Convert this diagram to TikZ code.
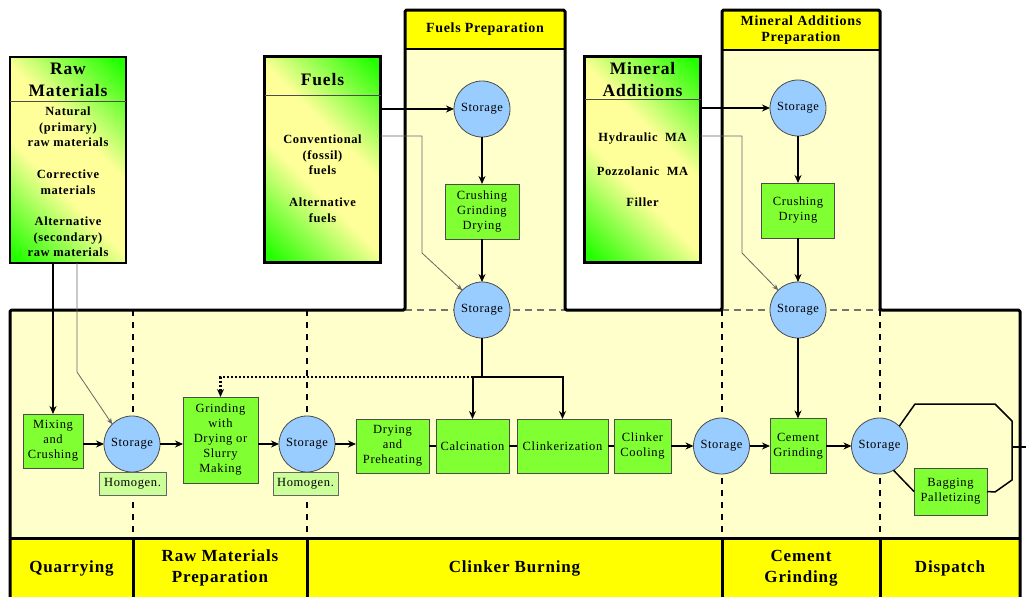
\documentclass[tikz,border=0pt]{standalone}
\usepackage{fontspec}
\setmainfont[LetterSpace=5]{Liberation Serif}
\usetikzlibrary{arrows.meta}

\definecolor{paleyel}{RGB}{255,255,204}
\definecolor{bandyel}{RGB}{255,255,0}
\definecolor{procgrn}{RGB}{128,255,51}
\definecolor{homgrn}{RGB}{204,255,153}
\definecolor{storblue}{RGB}{153,204,255}
\definecolor{sidegrn}{RGB}{34,255,0}
\definecolor{sideyel}{RGB}{255,255,153}

\pgfdeclarehorizontalshading{sidegrad}{100bp}{color(0bp)=(sidegrn); color(17bp)=(sidegrn); color(42bp)=(sideyel); color(58bp)=(sideyel); color(83bp)=(sidegrn); color(100bp)=(sidegrn)}

\begin{document}
\begin{tikzpicture}[x=1pt, y=-1pt,
  every node/.style={outer sep=0pt},
  proc/.style={draw=black!70, line width=0.8pt, fill=procgrn, align=center, inner sep=1pt, font=\fontsize{12.5}{15}\selectfont},
  stor/.style={circle, draw=black!70, line width=0.8pt, fill=storblue, minimum size=56pt, inner sep=0pt, font=\fontsize{12.5}{14}\selectfont},
  homog/.style={draw=black!60, line width=0.8pt, fill=homgrn, minimum height=23pt, inner sep=1pt, font=\fontsize{12.5}{14}\selectfont},
  sidebox/.style={draw=black, line width=2.5pt, shading=sidegrad, shading angle=45, minimum width=116pt, minimum height=206pt},
  sidehead/.style={align=center, font=\bfseries\fontsize{17.5}{22}\selectfont},
  sideitem/.style={align=center, font=\bfseries\fontsize{12.5}{15.5}\selectfont},
  prephead/.style={align=center, font=\bfseries\fontsize{14}{16}\selectfont},
  bandlabel/.style={align=center, font=\bfseries\fontsize{17}{21}\selectfont},
  frame/.style={line width=3pt, line join=round},
  seamdash/.style={draw=black!55, line width=1.5pt, dash pattern=on 7pt off 5pt},
  stagedash/.style={line width=1.8pt, dash pattern=on 6pt off 6pt},
  flow/.style={line width=2pt, -{Stealth[length=8pt, width=7pt]}},
  trunk/.style={line width=2pt},
  dotflow/.style={line width=2.4pt, dash pattern=on 2pt off 2pt, -{Stealth[length=8pt, width=7pt]}},
  thinflow/.style={line width=0.8pt, draw=black!60, -{Stealth[length=6pt, width=5pt]}},
  loopline/.style={line width=1.5pt, line join=round}]

\useasboundingbox (0,0) rectangle (1026,597);

\fill[paleyel] (10,310) -- (405,310) -- (405,10) -- (565,10) -- (565,310) -- (722,310) -- (722,10) -- (880,10) -- (880,310) -- (1020,310) -- (1020,600) -- (10,600) -- cycle;

\fill[bandyel] (405,10) rectangle (565,49);
\fill[bandyel] (722,10) rectangle (880,50);
\fill[bandyel] (10,538) rectangle (1020,600);

\draw[seamdash] (405,310) -- (565,310);
\draw[seamdash] (722,310) -- (880,310);
\foreach \x in {133,307,722,880}
  \draw[stagedash] (\x,310) -- (\x,538);

\draw[line width=1.5pt] (405,49) -- (565,49);
\draw[line width=1.5pt] (722,50) -- (880,50);
\draw[frame] (10,538) -- (1020,538);
\foreach \x in {133,307,722,880}
  \draw[frame] (\x,538) -- (\x,600);

\draw[frame, rounded corners=1.5pt] (10,310) -- (405,310) -- (405,10) -- (565,10) -- (565,310) -- (722,310) -- (722,10) -- (880,10) -- (880,310) -- (1020,310) -- (1020,600) -- (10,600) -- cycle;

\node[prephead] (fprephead) at (485,29) {Fuels Preparation};
\node[prephead] (mprephead) at (801,30) {Mineral Additions\\Preparation};

\node[bandlabel] (quarry) at (71.5,568) {Quarrying};
\node[bandlabel] (rawprep) at (220,568) {Raw Materials\\Preparation};
\node[bandlabel] (clinker) at (514.5,568) {Clinker Burning};
\node[bandlabel] (cement) at (801,568) {Cement\\Grinding};
\node[bandlabel] (dispatch) at (950,568) {Dispatch};

\node[sidebox] (rawmat) at (68,160) {};
\node[sidebox] (fuels) at (322.5,159.5) {};
\node[sidebox] (mineral) at (642.5,159.5) {};
\draw[line width=0.8pt, black!70] (rawmat.north west) ++(0,44) -- ++(116,0);
\draw[line width=0.8pt, black!70] (fuels.north west) ++(0,39) -- ++(116,0);
\draw[line width=0.8pt, black!70] (mineral.north west) ++(0,43) -- ++(116,0);

\node[sidehead] (rawhead) at (68,80) {Raw\\Materials};
\node[sideitem] (rawnat) at (68,127) {Natural\\(primary)\\raw materials};
\node[sideitem] (rawcor) at (68,182) {Corrective\\materials};
\node[sideitem] (rawalt) at (68,237) {Alternative\\(secondary)\\raw materials};

\node[sidehead] (fuelhead) at (322.5,80) {Fuels};
\node[sideitem] (fuelconv) at (322.5,155) {Conventional\\(fossil)\\fuels};
\node[sideitem] (fuelalt) at (322.5,210) {Alternative\\fuels};

\node[sidehead] (minhead) at (642.5,80) {Mineral\\Additions};
\node[sideitem] (minhyd) at (642.5,139) {Hydraulic~~MA};
\node[sideitem] (minpoz) at (642.5,171) {Pozzolanic~~MA};
\node[sideitem] (minfil) at (642.5,202) {Filler};

\node[stor] (fstor1) at (482,109) {Storage};
\node[proc, minimum width=74pt, minimum height=55pt] (fcrush) at (482,211.5) {Crushing\\Grinding\\Drying};
\node[stor] (fstor2) at (482,310) {Storage};

\node[stor] (mstor1) at (798,108) {Storage};
\node[proc, minimum width=73pt, minimum height=55pt] (mcrush) at (798,210.5) {Crushing\\Drying};
\node[stor] (mstor2) at (798,310) {Storage};

\node[proc, minimum width=60pt, minimum height=54pt] (mix) at (53,441) {Mixing\\and\\Crushing};
\node[stor] (stor1) at (132,444) {Storage};
\node[homog, minimum width=67pt] (homog1) at (132.5,483.5) {Homogen.};
\node[proc, minimum width=75pt, minimum height=86pt] (grind) at (220.5,440) {Grinding\\with\\Drying or\\Slurry\\Making};
\node[stor] (stor2) at (307,444) {Storage};
\node[homog, minimum width=65pt] (homog2) at (305.5,483.5) {Homogen.};
\node[proc, minimum width=73pt, minimum height=54pt] (dryp) at (392.5,446) {Drying\\and\\Preheating};
\node[proc, minimum width=73pt, minimum height=54pt] (calc) at (472.5,446) {Calcination};
\node[proc, minimum width=91pt, minimum height=54pt] (clink) at (562.5,446) {Clinkerization};
\node[proc, minimum width=57pt, minimum height=54pt] (cool) at (642.5,446) {Clinker\\Cooling};
\node[stor] (stor3) at (721.5,446) {Storage};
\node[proc, minimum width=56pt, minimum height=55pt] (cemg) at (798,446) {Cement\\Grinding};
\node[stor] (stor4) at (879.5,446) {Storage};
\node[proc, minimum width=73pt, minimum height=47pt] (bag) at (950.5,491.5) {Bagging\\Palletizing};

\draw[flow] (rawmat.south -| mix.north) -- (mix.north);
\coordinate (rawbend) at (77,372);
\draw[thinflow] (rawmat.south -| rawbend) -- (rawbend) -- (stor1.135);

\draw[flow] (mix.east |- stor1) -- (stor1);
\draw[flow] (stor1) -- (grind.west |- stor1);
\draw[flow] (grind.east |- stor2) -- (stor2);
\draw[flow] (stor2) -- (dryp.west |- stor2);
\draw[trunk] (dryp) -- (calc);
\draw[trunk] (calc) -- (clink);
\draw[trunk] (clink) -- (cool);
\draw[flow] (cool) -- (stor3);
\draw[flow] (stor3) -- (cemg);
\draw[flow] (cemg) -- (stor4);

\draw[flow] (fuels.east |- fstor1) -- (fstor1);
\draw[flow] (fstor1) -- (fcrush);
\draw[flow] (fcrush) -- (fstor2);
\coordinate (fuelbend) at (422,253);
\draw[thinflow] ([yshift=23.5pt]fuels.east) -| (fuelbend) -- (fstor2.135);
\coordinate (fjct) at (482,377);
\draw[trunk] (fstor2) -- (fjct);
\draw[flow] (fjct) -| (calc.north);
\draw[flow] (fjct) -| (clink.north);
\draw[dotflow] (calc.north |- fjct) -| (grind.north);

\draw[flow] (mineral.east |- mstor1) -- (mstor1);
\draw[flow] (mstor1) -- (mcrush);
\draw[flow] (mcrush) -- (mstor2);
\coordinate (minbend) at (742,253);
\draw[thinflow] ([yshift=23.5pt]mineral.east) -| (minbend) -- (mstor2.135);
\draw[flow] (mstor2) -- (cemg);

\coordinate (dspout) at (1012,447);
\draw[loopline] (stor4.45) -- (915,404) -- (995,404) -- (1012,421) -- (1012,480) -- (995,492) -- (bag.east);
\draw[loopline] (stor4.-60) -- (bag.west);
\draw[loopline] (dspout) -- (1030,447);

\end{tikzpicture}
\end{document}
